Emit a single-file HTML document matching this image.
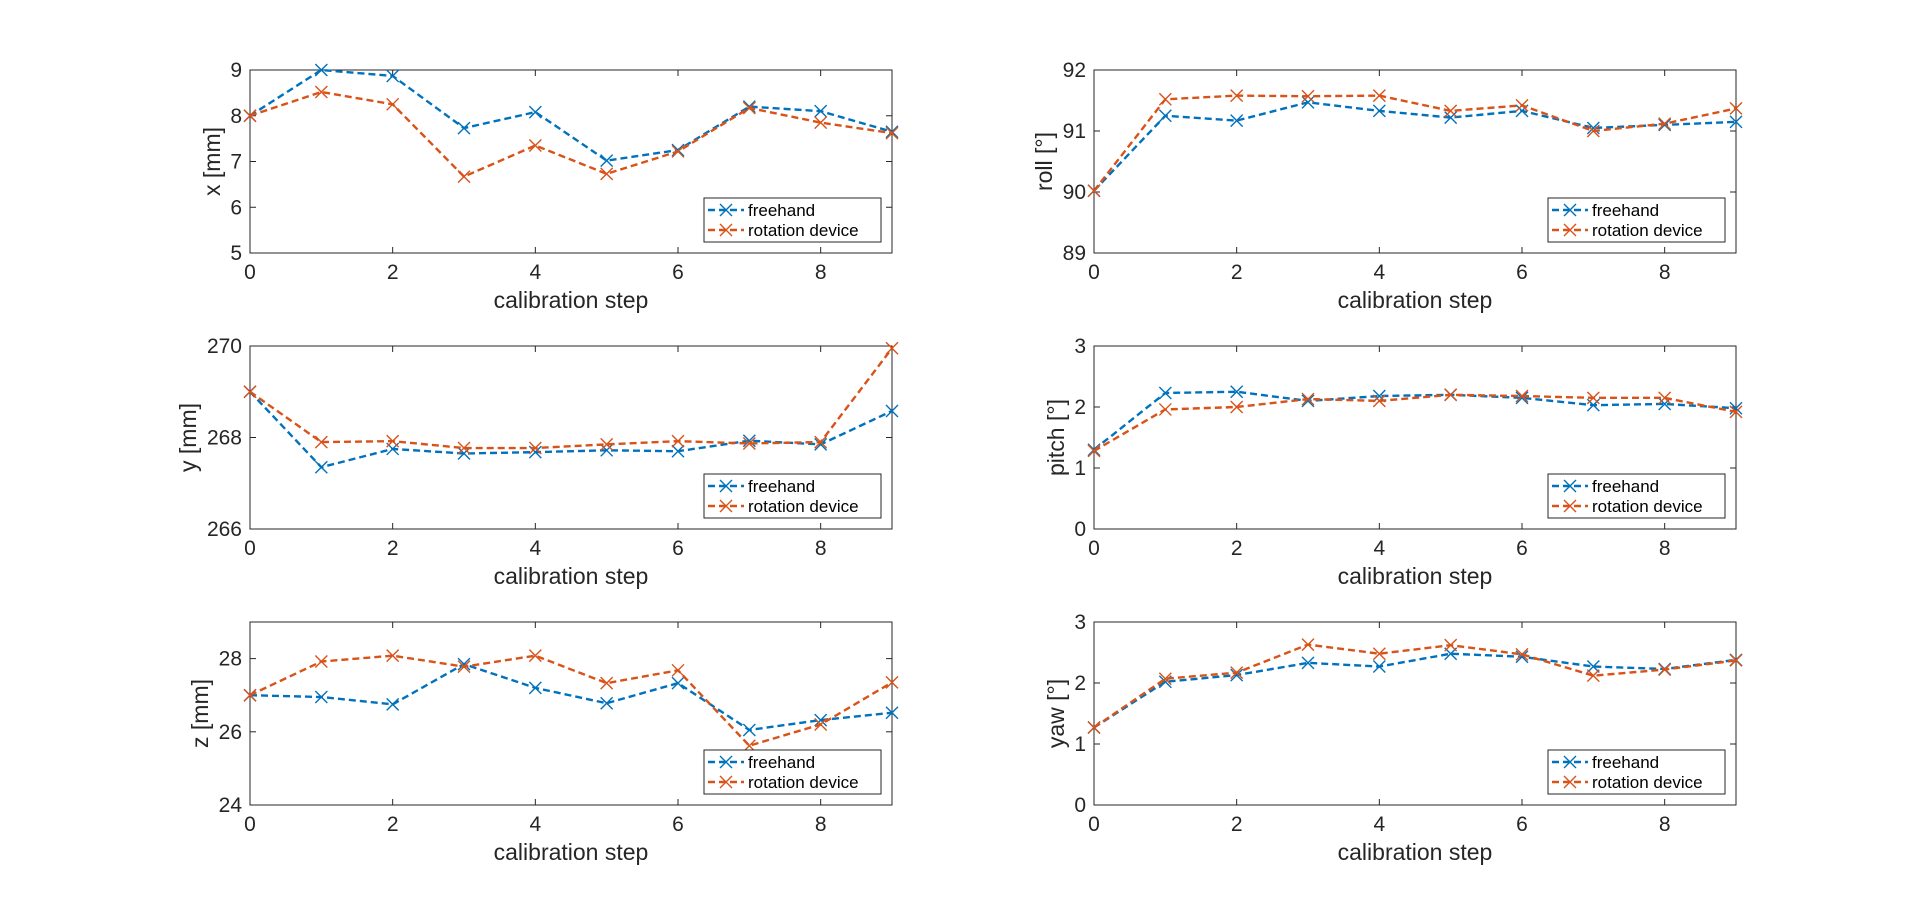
<!DOCTYPE html>
<html><head><meta charset="utf-8"><style>
html,body{margin:0;padding:0;background:#fff;}
svg{display:block;font-family:"Liberation Sans","DejaVu Sans",sans-serif;}
</style></head><body>
<svg id="fig" width="1920" height="923" viewBox="0 0 1920 923" xmlns="http://www.w3.org/2000/svg"></svg>
<script>
const steps=[0,1,2,3,4,5,6,7,8,9];
const xTicks=[0,2,4,6,8];
const xFree=[8.0,9.0,8.87,7.73,8.08,7.02,7.25,8.2,8.1,7.65];
const xRot=[8.0,8.52,8.25,6.67,7.35,6.73,7.22,8.17,7.85,7.62];
const yFree=[269,267.35,267.75,267.65,267.68,267.72,267.7,267.93,267.85,268.58];
const yRot=[269,267.9,267.92,267.77,267.77,267.85,267.92,267.87,267.9,269.95];
const zFree=[27.0,26.95,26.75,27.85,27.2,26.78,27.33,26.05,26.32,26.52];
const zRot=[27.0,27.92,28.08,27.78,28.08,27.33,27.68,25.62,26.2,27.35];
const rollFree=[90.02,91.25,91.17,91.47,91.33,91.22,91.33,91.05,91.1,91.15];
const rollRot=[90.02,91.52,91.58,91.57,91.58,91.33,91.42,91.0,91.12,91.37];
const pitchFree=[1.3,2.23,2.25,2.1,2.18,2.2,2.15,2.03,2.05,1.98];
const pitchRot=[1.28,1.96,2.0,2.13,2.1,2.2,2.18,2.15,2.15,1.92];
const yawFree=[1.27,2.02,2.13,2.33,2.27,2.48,2.43,2.27,2.23,2.38];
const yawRot=[1.27,2.07,2.17,2.63,2.48,2.62,2.47,2.12,2.22,2.37];
const xYTicks=[5,6,7,8,9];
const yYTicks=[266,268,270];
const zYTicks=[24,26,28];
const rollYTicks=[89,90,91,92];
const angYTicks=[0,1,2,3];

const NS="http://www.w3.org/2000/svg";
const fig=document.getElementById('fig');
function mk(tag,attrs,parent){const e=document.createElementNS(NS,tag);for(const k in attrs)e.setAttribute(k,attrs[k]);(parent||fig).appendChild(e);return e;}
const C1="#0072BD",C2="#D95319";

function panel(name,L,T,W,H,ymin,ymax,yt,ylabel,free,rot){
  const g=mk('g',{});
  
  
  const sx=v=>L+(v-0)/9*W, sy=v=>T+H-(v-ymin)/(ymax-ymin)*H;
  mk('rect',{x:L,y:T,width:W,height:H,fill:'#fff',stroke:'#262626','stroke-width':1},g);
  xTicks.forEach(t=>{const x=sx(t);
    mk('line',{x1:x,y1:T+H,x2:x,y2:T+H-6,stroke:'#262626'},g);
    mk('line',{x1:x,y1:T,x2:x,y2:T+6,stroke:'#262626'},g);
    const tx=mk('text',{x:x,y:T+H+26,'font-size':21,fill:'#262626','text-anchor':'middle'},g);tx.textContent=t;
    
    });
  yt.forEach(t=>{const y=sy(t);
    mk('line',{x1:L,y1:y,x2:L+6,y2:y,stroke:'#262626'},g);
    mk('line',{x1:L+W,y1:y,x2:L+W-6,y2:y,stroke:'#262626'},g);
    const tx=mk('text',{x:L-8,y:y+7,'font-size':21,fill:'#262626','text-anchor':'end'},g);tx.textContent=t;
    
    });
  const xl=mk('text',{x:L+W/2,y:T+H+55,'font-size':23,fill:'#262626','text-anchor':'middle'},g);xl.textContent='calibration step';
  
  
  const yx=L-(yt.some(v=>v>=100)?54:(yt.some(v=>v>=10)?42:30));
  const yl=mk('text',{x:yx,y:T+H/2,'font-size':23,fill:'#262626','text-anchor':'middle',transform:`rotate(-90 ${yx} ${T+H/2})`},g);yl.textContent=ylabel;
  
  
  [[free,C1,'freehand'],[rot,C2,'rotation-device']].forEach(([d,c,n])=>{
    const pts=steps.map((s,i)=>sx(s)+','+sy(d[i])).join(' ');
    const pl=mk('polyline',{points:pts,fill:'none',stroke:c,'stroke-width':2.4,'stroke-dasharray':'7,4'},g);
    
    
    steps.forEach((s,i)=>{const x=sx(s),y=sy(d[i]),r=6;
      const m=mk('path',{d:`M${x-r},${y-r}L${x+r},${y+r}M${x-r},${y+r}L${x+r},${y-r}`,stroke:c,'stroke-width':1.4},g);
      
      });
  });
  const lw=177,lh=44,lx=L+W-lw-11,ly=T+H-lh-11;
  const lg=mk('g',{},g);
  
  
  mk('rect',{x:lx,y:ly,width:lw,height:lh,fill:'#fff',stroke:'#262626'},lg);
  [['freehand',C1],['rotation device',C2]].forEach(([t,c],k)=>{
    const yy=ly+12+k*20;
    mk('line',{x1:lx+4,y1:yy,x2:lx+40,y2:yy,stroke:c,'stroke-width':2.4,'stroke-dasharray':'7,4'},lg);
    mk('path',{d:`M${lx+16},${yy-6}L${lx+28},${yy+6}M${lx+16},${yy+6}L${lx+28},${yy-6}`,stroke:c,'stroke-width':1.4},lg);
    const tx=mk('text',{x:lx+44,y:yy+6,'font-size':17,fill:'#000'},lg);tx.textContent=t;
    
    
  });
}
const LX=250,RX=1094,W=642,H=183;
panel('x',LX,70,W,H,5,9,xYTicks,'x [mm]',xFree,xRot);
panel('y',LX,346,W,H,266,270,yYTicks,'y [mm]',yFree,yRot);
panel('z',LX,622,W,H,24,29,zYTicks,'z [mm]',zFree,zRot);
panel('roll',RX,70,W,H,89,92,rollYTicks,'roll [°]',rollFree,rollRot);
panel('pitch',RX,346,W,H,0,3,angYTicks,'pitch [°]',pitchFree,pitchRot);
panel('yaw',RX,622,W,H,0,3,angYTicks,'yaw [°]',yawFree,yawRot);
</script>
</body></html>
